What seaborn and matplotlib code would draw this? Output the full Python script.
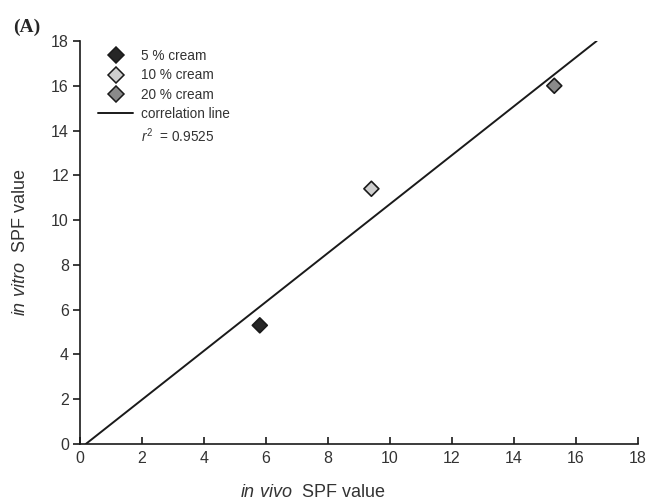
import matplotlib
matplotlib.use("Agg")
import matplotlib.pyplot as plt
from matplotlib.lines import Line2D
import numpy as np
import pandas as pd
import seaborn as sns

# data
creams = ["5 % cream", "10 % cream", "20 % cream"]
in_vivo = [5.8, 9.4, 15.3]
in_vitro = [5.3, 11.4, 16.0]
face_colors = ["#262626", "#cfcfcf", "#8a8a8a"]
ticks = [0, 2, 4, 6, 8, 10, 12, 14, 16, 18]

df = pd.DataFrame({"cream": creams, "in_vivo": in_vivo, "in_vitro": in_vitro})

# least squares correlation line, drawn from y=0 up to the top of the axis
slope, icpt = np.polyfit(df["in_vivo"], df["in_vitro"], 1)
r2 = np.corrcoef(df["in_vivo"], df["in_vitro"])[0, 1] ** 2
line_df = pd.DataFrame({"x": [-icpt / slope, (18 - icpt) / slope]})
line_df["y"] = slope * line_df["x"] + icpt

sns.set_style("white")
plt.rcParams["font.family"] = ["Liberation Sans", "DejaVu Sans"]
plt.rcParams["mathtext.fontset"] = "custom"
plt.rcParams["mathtext.it"] = "Liberation Sans:italic"
plt.rcParams["mathtext.rm"] = "Liberation Sans"

fig = plt.figure(figsize=(6.52, 5.03), dpi=100)
ax = fig.add_axes([0.1227, 0.1173, 0.8558, 0.8012])

sns.lineplot(data=line_df, x="x", y="y", color="#1a1a1a", linewidth=1.4, ax=ax, legend=False)
sns.scatterplot(data=df, x="in_vivo", y="in_vitro", hue="cream", palette=face_colors,
                marker="D", s=58, edgecolor="#1a1a1a", linewidth=1.2, ax=ax, legend=False,
                zorder=3)

ax.set_xlim(0, 18)
ax.set_ylim(0, 18)
ax.set_xticks(ticks)
ax.set_yticks(ticks)
for s in ["top", "right"]:
    ax.spines[s].set_visible(False)
for s in ["left", "bottom"]:
    ax.spines[s].set_color("#1a1a1a")
    ax.spines[s].set_linewidth(1.2)
ax.tick_params(axis="x", direction="in", length=5, width=1.2, color="#1a1a1a",
               labelsize=11.5, labelcolor="#333333", pad=5, bottom=True)
ax.tick_params(axis="y", direction="out", length=5, width=1.2, color="#1a1a1a",
               labelsize=11.5, labelcolor="#333333", pad=3, left=True)

ax.set_xlabel(r"$\it{in\ vivo}$  SPF value", fontsize=13, color="#333333", labelpad=10)
ax.xaxis.set_label_coords(0.416, -0.1)
ax.set_ylabel(r"$\it{in\ vitro}$  SPF value", fontsize=13, color="#333333", labelpad=16)

handles = [Line2D([], [], marker="D", linestyle="none", markersize=8,
                  markerfacecolor=c, markeredgecolor="#1a1a1a", markeredgewidth=1.1)
           for c in face_colors]
handles.append(Line2D([], [], color="#1a1a1a", linewidth=1.4))
handles.append(Line2D([], [], linestyle="none"))
labels = creams + ["correlation line", "$r^2$  = %.4f" % r2]
leg = ax.legend(handles, labels, loc="upper left", bbox_to_anchor=(0.01, 1.01), frameon=False,
                fontsize=9.8, handlelength=2.6, handletextpad=0.55, labelspacing=0.38,
                labelcolor="#333333")

fig.text(0.02, 0.936, "(A)", fontsize=14, fontweight="bold", family="Liberation Serif",
         va="baseline")

fig.savefig("out.png", dpi=100)
